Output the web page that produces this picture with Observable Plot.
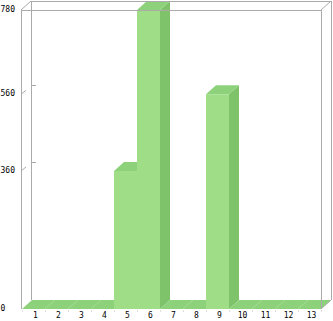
<!DOCTYPE html>
<html>
<head>
<meta charset="utf-8">
<script src="https://cdn.jsdelivr.net/npm/d3@7"></script>
<script src="https://cdn.jsdelivr.net/npm/@observablehq/plot@0.6"></script>
<style>
  html, body { margin: 0; padding: 0; background: #fff; }
  #chart svg { display: block; }
</style>
</head>
<body>
<div id="chart"></div>
<script>
// Categories along the bottom and their values
const categories = ["1", "2", "3", "4", "5", "6", "7", "8", "9", "10", "11", "12", "13"];
const values = [0, 0, 0, 0, 360, 780, 0, 0, 560, 0, 0, 0, 0];
// Tick values shown on the vertical axis
const yTicks = [0, 360, 560, 780];

const rows = categories.map((c, i) => ({cat: c, value: values[i]}));

// Depth of the 3D extrusion, in pixels
const DX = 10, DY = 9;
const FRONT = "#9fde87", TOP = "#8dd27a", SIDE = "#7ec26a";
const LINE = "#aaaaaa";

// Back wall, side wall and floor outline, plus the tick marks on the walls
function walls(index, {x, y}, values, dims) {
  const g = d3.create("svg:g").attr("fill", "none").attr("stroke", LINE).attr("shape-rendering", "crispEdges");
  const x0 = dims.marginLeft, x1 = dims.width - dims.marginRight;
  const yb = y(0), yt = y(780);
  // back wall
  g.append("path").attr("d", `M${x0 + DX},${yb - DY}V${yt - DY}H${x1 + DX}V${yb - DY}`);
  // side-wall ticks and back-wall tick stubs
  for (const t of yTicks) {
    if (t === 0 || t === 780) continue;
    g.append("line").attr("x1", x0).attr("y1", y(t)).attr("x2", x0 + 5).attr("y2", y(t) - 4).attr("shape-rendering", "auto");
    g.append("line").attr("x1", x0 + DX).attr("y1", y(t) - DY).attr("x2", x0 + DX + 5).attr("y2", y(t) - DY);
  }
  // category ticks below the floor
  for (let i = 0; i <= categories.length; i++) {
    const xp = i < categories.length ? x(categories[i]) : x1;
    g.append("line").attr("x1", xp).attr("y1", yb + 1).attr("x2", xp).attr("y2", yb + 3).attr("stroke", "#dddddd");
  }
  return g.node();
}

// Extruded bars: front face, side face and top face for each category
function bars3d(index, {x, y}) {
  const g = d3.create("svg:g");
  const bw = x.bandwidth();
  for (const r of rows) {
    const a = x(r.cat), b = a + bw;
    const y0 = y(0), y1 = y(r.value);
    if (r.value > 0) {
      g.append("rect").attr("x", a).attr("y", y1).attr("width", bw).attr("height", y0 - y1).attr("fill", FRONT);
      g.append("path").attr("d", `M${b},${y1}L${b + DX},${y1 - DY}L${b + DX},${y0 - DY}L${b},${y0}Z`).attr("fill", SIDE);
    }
    g.append("path").attr("d", `M${a},${y1}L${a + DX},${y1 - DY}L${b + DX},${y1 - DY}L${b},${y1}Z`).attr("fill", TOP);
  }
  return g.node();
}

// Front outline and the connecting edges, drawn over the bars
function frontFrame(index, {x, y}, values, dims) {
  const g = d3.create("svg:g").attr("fill", "none").attr("stroke", LINE);
  const x0 = dims.marginLeft, x1 = dims.width - dims.marginRight;
  const yb = y(0), yt = y(780);
  g.append("path").attr("d", `M${x0},${yb}V${yt}H${x1}V${yb}`).attr("shape-rendering", "crispEdges");
  g.append("path").attr("d", `M${x0},${yt}L${x0 + DX},${yt - DY}M${x1},${yt}L${x1 + DX},${yt - DY}M${x1},${yb}L${x1 + DX},${yb - DY}`);
  g.append("path").attr("d", `M${x0 + DX},${yt - DY}H${x1 + DX}V${yb - DY}`).attr("shape-rendering", "crispEdges");
  return g.node();
}

const chart = Plot.plot({
  width: 333,
  height: 321,
  marginLeft: 21,
  marginRight: 12,
  marginTop: 10,
  marginBottom: 12,
  style: {background: "#fff", fontFamily: "DejaVu Sans Mono", fontSize: "8px", overflow: "visible"},
  x: {type: "band", domain: categories, padding: 0, axis: null},
  y: {domain: [0, 780], axis: null},
  marks: [
    walls,
    bars3d,
    frontFrame,
    Plot.text(rows, {x: "cat", text: "cat", frameAnchor: "bottom", dy: 8, dx: 1.5, fill: "#000", fontSize: 8}),
    Plot.text(yTicks, {y: d => d, text: d => String(d), frameAnchor: "left", dx: -21, dy: -1.5, textAnchor: "start", fill: "#000", fontSize: 8})
  ]
});

document.getElementById("chart").append(chart);
</script>
</body>
</html>
